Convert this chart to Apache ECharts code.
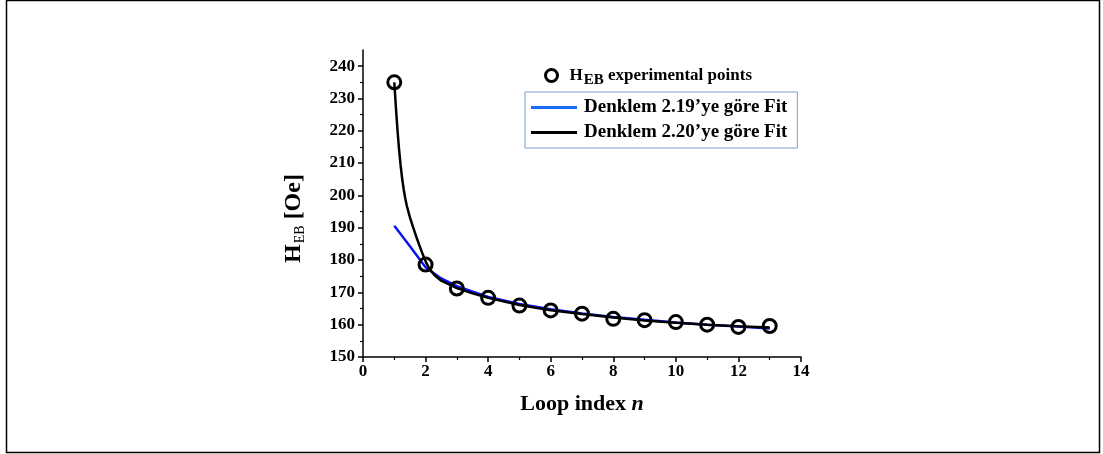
<!DOCTYPE html>
<html><head><meta charset="utf-8">
<script src="https://cdn.jsdelivr.net/npm/echarts@6/dist/echarts.min.js"></script>
<style>html,body{margin:0;padding:0;background:#fff}#c{width:1103px;height:454px}</style>
</head><body><div id="c"></div>
<script>
const loopIndex = [1,2,3,4,5,6,7,8,9,10,11,12,13];
const hebPoints = [235,178.6,171.2,168.3,165.9,164.4,163.4,161.8,161.4,160.8,160.0,159.3,159.6];
const fit219X = [1,1.5,2,2.5,3,4,5,6,7,8,9,10,11,12,13];
const fit219Y = [190.6,184.3,177.8,174.3,171.9,168.6,166.4,164.8,163.5,162.4,161.5,160.7,160.0,159.4,158.8];
const fit220X = [1,1.05,1.1,1.15,1.2,1.25,1.3,1.35,1.4,1.5,1.6,1.7,1.8,1.9,2,2.1,2.2,2.3,2.5,3,3.5,4,5,6,7,8,9,10,11,12,13];
const fit220Y = [235,227.5,220.5,214.5,209.5,205.3,201.9,199.1,196.8,193.2,190.2,187.3,184.6,182.0,179.6,177.7,176.3,175.2,173.6,171.3,169.7,168.3,166.1,164.5,163.3,162.2,161.3,160.6,160.0,159.5,159.1];
const yTicks = [150,160,170,180,190,200,210,220,230,240];

const FONT = '"Liberation Serif","Times New Roman",serif';
const zip = (xs, ys) => xs.map((x, i) => [x, ys[i]]);
const chart = echarts.init(document.getElementById('c'), null, {renderer: 'canvas'});
chart.setOption({
  animation: false,
  backgroundColor: '#fff',
  textStyle: {fontFamily: FONT},
  graphic: [{
    type: 'rect', shape: {x: 6.5, y: 0.5, width: 1093, height: 452},
    style: {fill: 'none', stroke: '#000', lineWidth: 1.5}, silent: true
  }],
  grid: {left: 363, right: 302, top: 50, bottom: 97},
  legend: [{
    data: [{name: 'HEB', icon: 'circle'}],
    left: 539, top: 62,
    itemWidth: 12, itemHeight: 12, itemGap: 10,
    itemStyle: {color: '#fff', borderColor: '#000', borderWidth: 3},
    formatter: () => '{h|H}{s|EB}{t| experimental points}',
    textStyle: {
      fontFamily: FONT, fontWeight: 'bold', color: '#000', padding: [0, 0, 0, 7],
      rich: {
        h: {fontFamily: FONT, fontWeight: 'bold', fontSize: 17, color: '#000'},
        s: {fontFamily: FONT, fontWeight: 'bold', fontSize: 15, color: '#000', padding: [9, 0, 0, 1]},
        t: {fontFamily: FONT, fontWeight: 'bold', fontSize: 17, color: '#000'}
      }
    }
  }, {
    data: [
      {name: 'Denklem 2.19’ye göre Fit', icon: 'rect', itemStyle: {color: '#1a6cf5'}},
      {name: 'Denklem 2.20’ye göre Fit', icon: 'rect', itemStyle: {color: '#000'}}
    ],
    orient: 'vertical',
    left: 525, top: 92,
    padding: [6, 10, 6, 6],
    borderColor: '#7f9fcf', borderWidth: 1,
    itemWidth: 46, itemHeight: 3, itemGap: 6,
    textStyle: {fontFamily: FONT, fontWeight: 'bold', fontSize: 19, color: '#000', padding: [0, 0, 0, 2], lineHeight: 19}
  }],
  xAxis: {
    type: 'value', min: 0, max: 14, interval: 2,
    name: '{a|Loop index }{b|n}', nameLocation: 'middle', nameGap: 36,
    nameTextStyle: {
      rich: {
        a: {fontFamily: FONT, fontWeight: 'bold', fontSize: 22, color: '#000'},
        b: {fontFamily: FONT, fontWeight: 'bold', fontStyle: 'italic', fontSize: 22, color: '#000'}
      }
    },
    axisLine: {onZero: false, lineStyle: {color: '#000', width: 1.5}},
    axisTick: {show: true, length: 5, lineStyle: {color: '#000', width: 1.5}},
    minorTick: {show: true, splitNumber: 2, length: 3, lineStyle: {color: '#000', width: 1.2}},
    splitLine: {show: false},
    axisLabel: {fontFamily: FONT, fontWeight: 'bold', fontSize: 17, color: '#000', margin: 6}
  },
  yAxis: {
    type: 'value', min: 150, max: 245, interval: 10,
    name: '{h|H}{s|EB}{o| [Oe]}', nameLocation: 'middle', nameGap: 56, nameRotate: 90,
    nameTextStyle: {
      padding: [0, 30, 0, 0],
      rich: {
        h: {fontFamily: FONT, fontWeight: 'bold', fontSize: 24, color: '#000'},
        s: {fontFamily: FONT, fontWeight: 'normal', fontSize: 14, color: '#000', padding: [12, 0, 0, 1]},
        o: {fontFamily: FONT, fontWeight: 'bold', fontSize: 24, color: '#000'}
      }
    },
    axisLine: {show: true, onZero: false, lineStyle: {color: '#000', width: 1.5}},
    axisTick: {show: true, length: 5, customValues: yTicks, lineStyle: {color: '#000', width: 1.5}},
    minorTick: {show: true, splitNumber: 2, length: 3, lineStyle: {color: '#000', width: 1.2}},
    splitLine: {show: false},
    axisLabel: {fontFamily: FONT, fontWeight: 'bold', fontSize: 17, color: '#000', margin: 8, customValues: yTicks}
  },
  series: [{
    name: 'Denklem 2.19’ye göre Fit', type: 'line', data: zip(fit219X, fit219Y),
    symbol: 'none', smooth: false, lineStyle: {color: '#0a14f5', width: 2.5}, itemStyle: {color: '#1a6cf5'}, z: 3
  }, {
    name: 'Denklem 2.20’ye göre Fit', type: 'line', data: zip(fit220X, fit220Y),
    symbol: 'none', smooth: false, lineStyle: {color: '#000', width: 2.5}, itemStyle: {color: '#000'}, z: 4
  }, {
    name: 'HEB', type: 'scatter', data: zip(loopIndex, hebPoints),
    symbol: 'circle', symbolSize: 13,
    itemStyle: {color: 'rgba(255,255,255,0)', borderColor: '#000', borderWidth: 3, opacity: 1}, z: 5
  }]
});
</script></body></html>
